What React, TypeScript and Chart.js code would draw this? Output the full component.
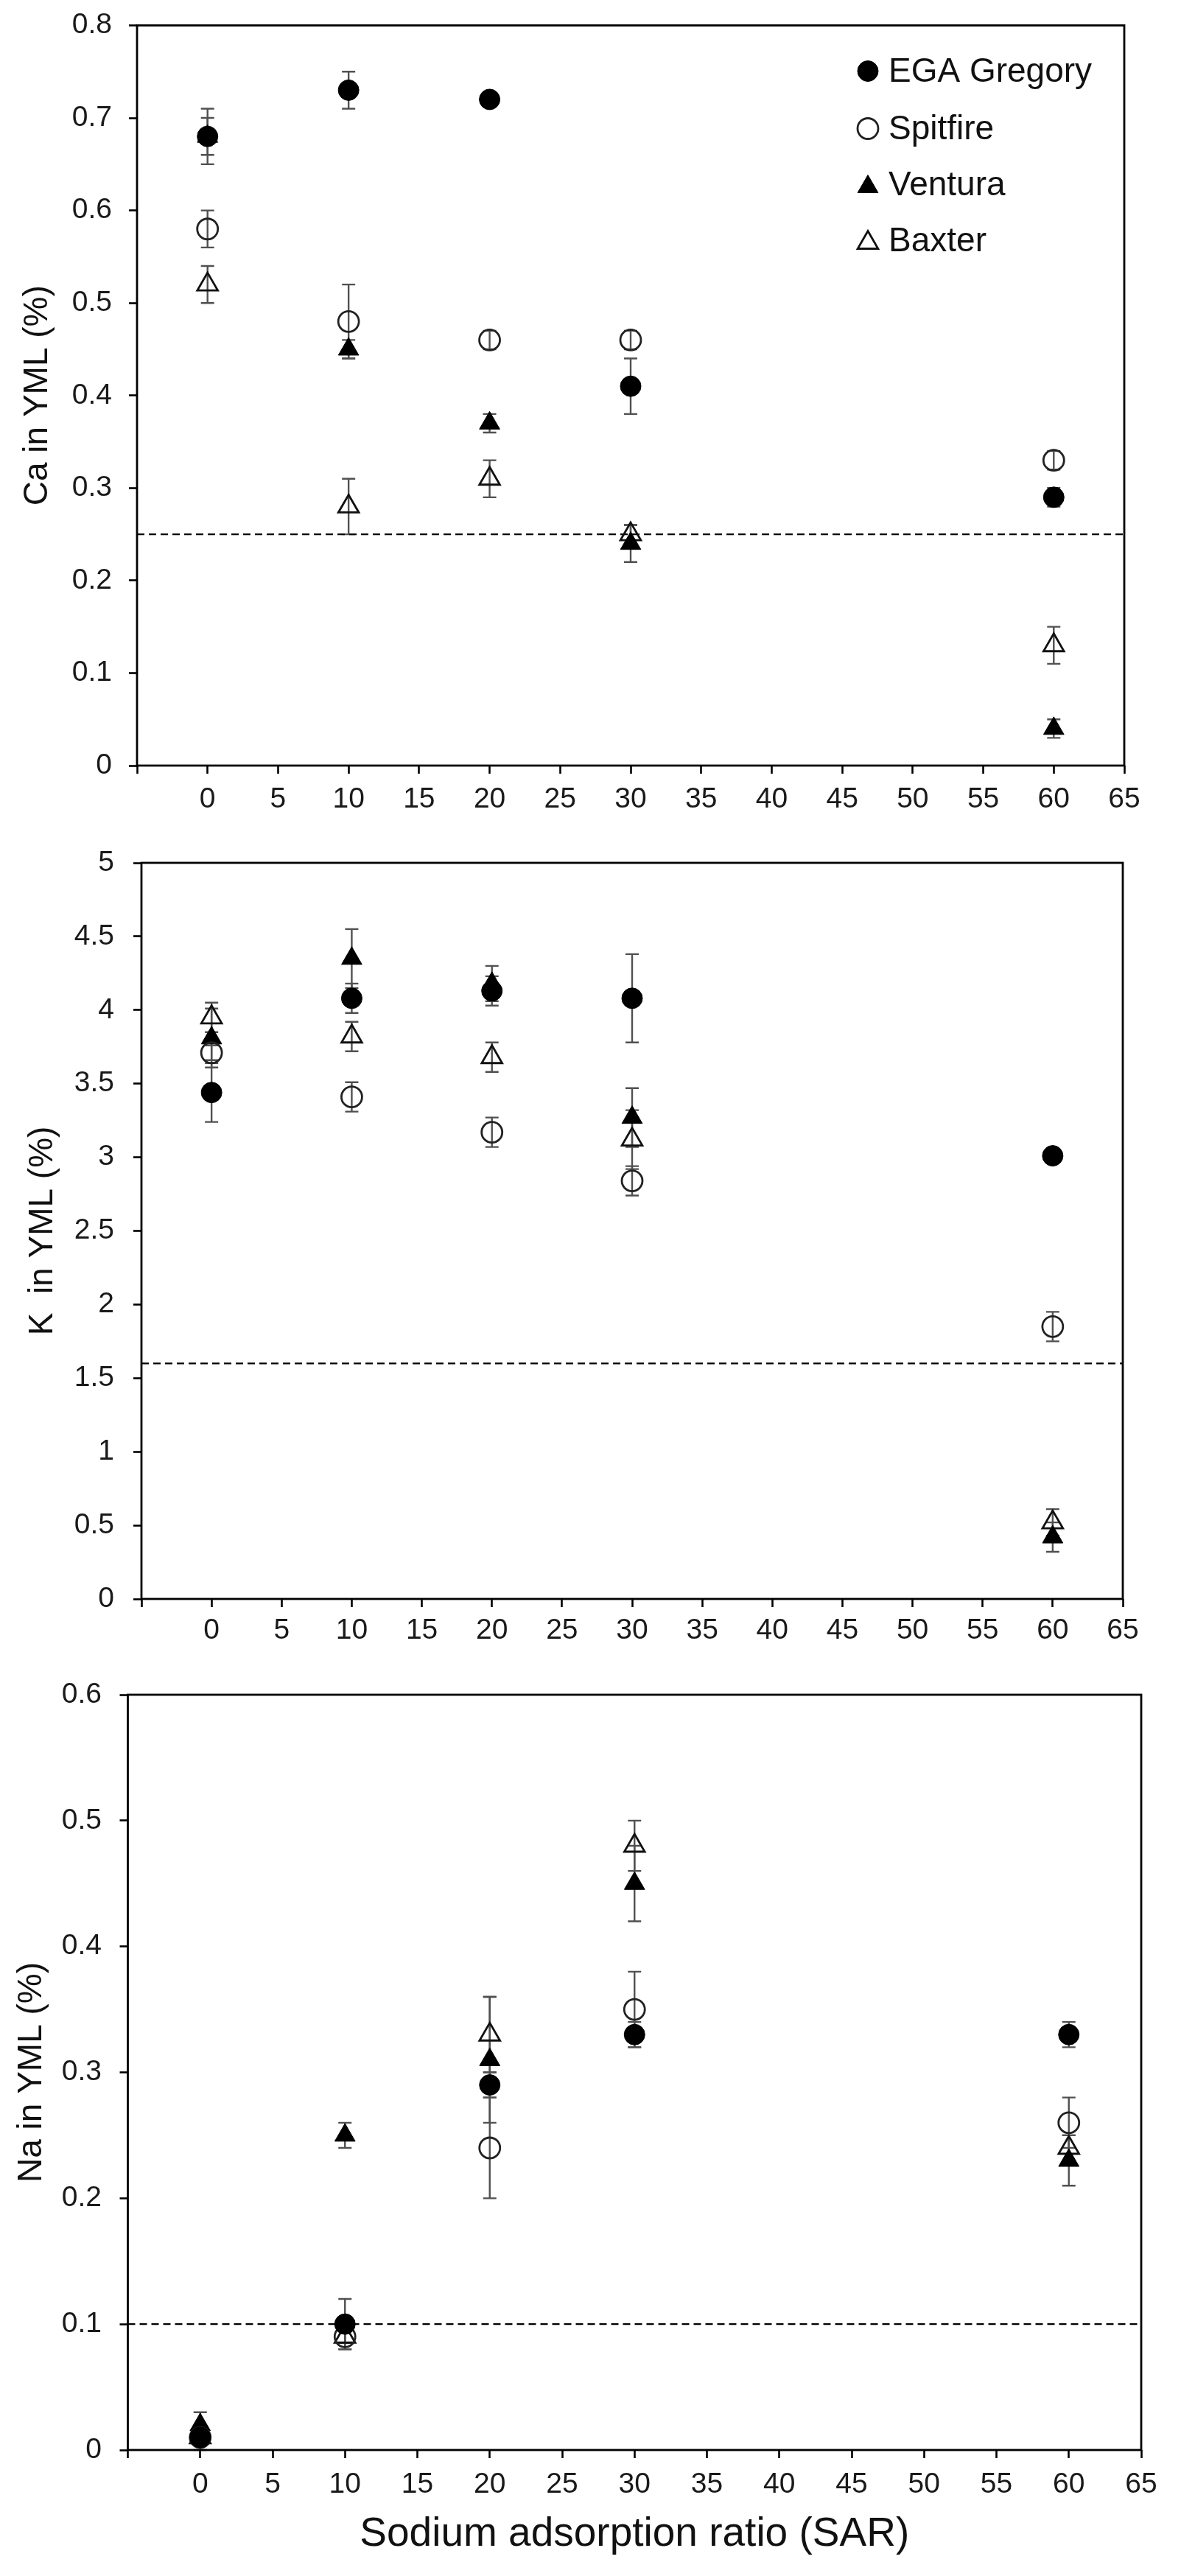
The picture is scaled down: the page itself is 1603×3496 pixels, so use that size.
import React, { useEffect, useRef } from 'react';
import { Chart, registerables } from 'chart.js';

Chart.register(...registerables);

const FONT = "'Liberation Sans', Arial, Helvetica, sans-serif";

// ---------- data ----------
const SAR = [0, 10, 20, 30, 60];
const X_MIN = -5;
const X_MAX = 65;
const X_STEP = 5;
const X_TITLE = 'Sodium adsorption ratio (SAR)';

const CULTIVARS = ['EGA Gregory', 'Spitfire', 'Ventura', 'Baxter'];

// Ca in YML (%)
const CA_EGA = [0.68, 0.73, 0.72, 0.41, 0.29];
const CA_SPITFIRE = [0.58, 0.48, 0.46, 0.46, 0.33];
const CA_VENTURA = [0.68, 0.45, 0.37, 0.24, 0.04];
const CA_BAXTER = [0.52, 0.28, 0.31, 0.25, 0.13];
const CA_EGA_ERR = [0.03, 0.02, 0.005, 0.03, 0.01];
const CA_SPITFIRE_ERR = [0.02, 0.04, 0.01, 0.01, 0.01];
const CA_VENTURA_ERR = [0.02, 0.01, 0.01, 0.02, 0.01];
const CA_BAXTER_ERR = [0.02, 0.03, 0.02, 0.01, 0.02];
const CA_THRESHOLD = 0.25;
const CA_Y = { min: 0, max: 0.8, step: 0.1, title: 'Ca in YML (%)' };

// K in YML (%)
const K_EGA = [3.44, 4.08, 4.13, 4.08, 3.01];
const K_SPITFIRE = [3.71, 3.41, 3.17, 2.84, 1.85];
const K_VENTURA = [3.81, 4.35, 4.18, 3.27, 0.42];
const K_BAXTER = [3.95, 3.82, 3.68, 3.12, 0.52];
const K_EGA_ERR = [0.2, 0.1, 0.1, 0.3, 0.03];
const K_SPITFIRE_ERR = [0.05, 0.1, 0.1, 0.1, 0.1];
const K_VENTURA_ERR = [0.2, 0.2, 0.12, 0.2, 0.1];
const K_BAXTER_ERR = [0.1, 0.1, 0.1, 0.2, 0.09];
const K_THRESHOLD = 1.6;
const K_Y = { min: 0, max: 5, step: 0.5, title: 'K  in YML (%)' };

// Na in YML (%)
const NA_EGA = [0.01, 0.1, 0.29, 0.33, 0.33];
const NA_SPITFIRE = [0.01, 0.09, 0.24, 0.35, 0.26];
const NA_VENTURA = [0.02, 0.25, 0.31, 0.45, 0.23];
const NA_BAXTER = [0.01, 0.09, 0.33, 0.48, 0.24];
const NA_EGA_ERR = [0.005, 0.02, 0.01, 0.01, 0.01];
const NA_SPITFIRE_ERR = [0.005, 0.005, 0.04, 0.03, 0.02];
const NA_VENTURA_ERR = [0.01, 0.01, 0.05, 0.03, 0.02];
const NA_BAXTER_ERR = [0.01, 0.01, 0.03, 0.02, 0.01];
const NA_THRESHOLD = 0.1;
const NA_Y = { min: 0, max: 0.6, step: 0.1, title: 'Na in YML (%)' };

// ---------- styles ----------
const MARKERS = [
  { style: 'circle', radius: 14, fill: '#000000', stroke: '#000000', width: 1 },
  { style: 'circle', radius: 14, fill: 'rgba(0,0,0,0)', stroke: '#222222', width: 2.8 },
  { style: 'triangle', radius: 16, fill: '#000000', stroke: '#000000', width: 1 },
  { style: 'triangle', radius: 16, fill: 'rgba(0,0,0,0)', stroke: '#111111', width: 2.8 },
];

type PanelCfg = {
  top: number;
  height: number;
  areaLeft: number;
  areaRight: number;
  areaTop: number;
  areaBottom: number;
  yTitlePad: number;
  yTickPad: number;
  xTickPad: number;
  xTitlePad: number;
  showXTitle: boolean;
  legend: boolean;
  y: { min: number; max: number; step: number; title: string };
  values: number[][];
  errors: number[][];
  threshold: number;
};

const PAGE_W = 1603;

const PANELS: PanelCfg[] = [
  {
    top: 0, height: 1140,
    areaLeft: 186, areaRight: 1526, areaTop: 34.5, areaBottom: 1039,
    yTitlePad: 23.4, yTickPad: 23, xTickPad: 12, xTitlePad: 0,
    showXTitle: false, legend: true,
    y: CA_Y,
    values: [CA_EGA, CA_SPITFIRE, CA_VENTURA, CA_BAXTER],
    errors: [CA_EGA_ERR, CA_SPITFIRE_ERR, CA_VENTURA_ERR, CA_BAXTER_ERR],
    threshold: CA_THRESHOLD,
  },
  {
    top: 1140, height: 1120,
    areaLeft: 192, areaRight: 1524, areaTop: 31, areaBottom: 1030,
    yTitlePad: 31, yTickPad: 26, xTickPad: 9, xTitlePad: 0,
    showXTitle: false, legend: false,
    y: K_Y,
    values: [K_EGA, K_SPITFIRE, K_VENTURA, K_BAXTER],
    errors: [K_EGA_ERR, K_SPITFIRE_ERR, K_VENTURA_ERR, K_BAXTER_ERR],
    threshold: K_THRESHOLD,
  },
  {
    top: 2260, height: 1236,
    areaLeft: 173.5, areaRight: 1549, areaTop: 40, areaBottom: 1065,
    yTitlePad: 15.4, yTickPad: 24.5, xTickPad: 13, xTitlePad: 23,
    showXTitle: true, legend: false,
    y: NA_Y,
    values: [NA_EGA, NA_SPITFIRE, NA_VENTURA, NA_BAXTER],
    errors: [NA_EGA_ERR, NA_SPITFIRE_ERR, NA_VENTURA_ERR, NA_BAXTER_ERR],
    threshold: NA_THRESHOLD,
  },
];

const CAP = 9;

const errorBarPlugin = {
  id: 'errorBars',
  beforeDatasetsDraw(chart: any) {
    const ctx = chart.ctx;
    const xs = chart.scales.x;
    const ys = chart.scales.y;
    ctx.save();
    ctx.strokeStyle = '#505050';
    ctx.lineWidth = 2.4;
    chart.data.datasets.forEach((ds: any) => {
      if (!ds.errors) return;
      ds.data.forEach((pt: any, j: number) => {
        const e = ds.errors[j];
        if (!e) return;
        const px = xs.getPixelForValue(pt.x);
        const y1 = ys.getPixelForValue(pt.y + e);
        const y2 = ys.getPixelForValue(pt.y - e);
        ctx.beginPath();
        ctx.moveTo(px, y1);
        ctx.lineTo(px, y2);
        ctx.moveTo(px - CAP, y1);
        ctx.lineTo(px + CAP, y1);
        ctx.moveTo(px - CAP, y2);
        ctx.lineTo(px + CAP, y2);
        ctx.stroke();
      });
    });
    ctx.restore();
  },
};

const framePlugin = {
  id: 'frame',
  afterDraw(chart: any) {
    const { ctx, chartArea } = chart;
    ctx.save();
    ctx.strokeStyle = '#000';
    ctx.lineWidth = 2.8;
    ctx.strokeRect(chartArea.left, chartArea.top, chartArea.right - chartArea.left, chartArea.bottom - chartArea.top);
    ctx.restore();
  },
};

function drawMarker(ctx: CanvasRenderingContext2D, m: any, x: number, y: number) {
  ctx.beginPath();
  if (m.style === 'circle') {
    ctx.arc(x, y, m.radius, 0, Math.PI * 2);
  } else {
    const r = m.radius;
    ctx.moveTo(x, y - r);
    ctx.lineTo(x + r * 0.866, y + r * 0.5);
    ctx.lineTo(x - r * 0.866, y + r * 0.5);
    ctx.closePath();
  }
  ctx.fillStyle = m.fill;
  ctx.fill();
  ctx.lineWidth = m.width;
  ctx.strokeStyle = m.stroke;
  ctx.stroke();
}

const legendPlugin = {
  id: 'cornerLegend',
  afterDraw(chart: any) {
    const ctx = chart.ctx;
    const area = chart.chartArea;
    const mx = area.right - 348;
    const tx = area.right - 320;
    const rows = [62, 140, 216, 292];
    ctx.save();
    ctx.font = `46px ${FONT}`;
    ctx.textBaseline = 'middle';
    ctx.textAlign = 'left';
    CULTIVARS.forEach((name, i) => {
      const y = area.top + rows[i];
      drawMarker(ctx, MARKERS[i], mx, y + (MARKERS[i].style === 'triangle' ? 3 : 0));
      ctx.fillStyle = '#111';
      ctx.fillText(name, tx, y + 2);
    });
    ctx.restore();
  },
};

const fmtTick = (v: any) => String(parseFloat(Number(v).toFixed(3)));

function Panel({ cfg }: { cfg: PanelCfg }) {
  const ref = useRef<HTMLCanvasElement | null>(null);
  useEffect(() => {
    const canvas = ref.current;
    if (!canvas) return;
    const datasets: any[] = cfg.values.map((vals, i) => ({
      type: 'scatter',
      label: CULTIVARS[i],
      data: SAR.map((x, j) => ({ x, y: vals[j] })),
      errors: cfg.errors[i],
      pointStyle: MARKERS[i].style,
      pointRadius: MARKERS[i].radius,
      pointHoverRadius: MARKERS[i].radius,
      pointBackgroundColor: MARKERS[i].fill,
      pointBorderColor: MARKERS[i].stroke,
      pointBorderWidth: MARKERS[i].width,
      showLine: false,
      order: 1,
    }));
    datasets.push({
      type: 'scatter',
      label: 'threshold',
      data: [
        { x: X_MIN, y: cfg.threshold },
        { x: X_MAX, y: cfg.threshold },
      ],
      showLine: true,
      borderColor: '#000',
      borderWidth: 2.2,
      borderDash: [10, 6],
      pointRadius: 0,
      pointHoverRadius: 0,
      fill: false,
      order: 10,
    });

    const xAxisH = cfg.height - cfg.areaBottom;
    const plugins: any[] = [errorBarPlugin, framePlugin];
    if (cfg.legend) plugins.push(legendPlugin);

    const chart = new Chart(canvas, {
      type: 'scatter',
      data: { datasets },
      plugins,
      options: {
        responsive: false,
        maintainAspectRatio: false,
        devicePixelRatio: 1,
        animation: false,
        events: [],
        layout: {
          padding: {
            left: 0,
            right: PAGE_W - cfg.areaRight,
            top: cfg.areaTop,
            bottom: 0,
          },
        },
        plugins: {
          legend: { display: false },
          tooltip: { enabled: false },
        },
        scales: {
          x: {
            type: 'linear',
            min: X_MIN,
            max: X_MAX,
            ticks: {
              stepSize: X_STEP,
              autoSkip: false,
              maxRotation: 0,
              minRotation: 0,
              padding: cfg.xTickPad,
              color: '#1a1a1a',
              font: { family: FONT, size: 39 },
              callback: (v: any) => (v === X_MIN ? '' : fmtTick(v)),
            },
            grid: {
              display: true,
              drawOnChartArea: false,
              drawTicks: true,
              tickLength: 11,
              tickWidth: 2.6,
              tickColor: '#000',
            },
            border: { display: false },
            title: {
              display: cfg.showXTitle,
              text: X_TITLE,
              color: '#111',
              font: { family: FONT, size: 55 },
              padding: { top: 0, bottom: cfg.xTitlePad },
            },
            afterFit: (scale: any) => {
              scale.height = xAxisH;
              scale.paddingLeft = 0;
              scale.paddingRight = 0;
            },
          },
          y: {
            type: 'linear',
            min: cfg.y.min,
            max: cfg.y.max,
            ticks: {
              stepSize: cfg.y.step,
              autoSkip: false,
              padding: cfg.yTickPad,
              color: '#1a1a1a',
              font: { family: FONT, size: 39 },
              callback: (v: any) => fmtTick(v),
            },
            grid: {
              display: true,
              drawOnChartArea: false,
              drawTicks: true,
              tickLength: 11,
              tickWidth: 2.6,
              tickColor: '#000',
            },
            border: { display: false },
            title: {
              display: true,
              text: cfg.y.title,
              color: '#111',
              font: { family: FONT, size: 46 },
              padding: { top: cfg.yTitlePad, bottom: 0 },
            },
            afterFit: (scale: any) => {
              scale.width = cfg.areaLeft;
              scale.paddingTop = 0;
              scale.paddingBottom = 0;
            },
          },
        },
      } as any,
    } as any);
    return () => chart.destroy();
  }, [cfg]);

  return (
    <canvas
      ref={ref}
      width={PAGE_W}
      height={cfg.height}
      style={{ position: 'absolute', left: 0, top: cfg.top, width: PAGE_W, height: cfg.height }}
    />
  );
}

export default function App() {
  return (
    <div
      style={{
        position: 'absolute',
        left: 0,
        top: 0,
        width: PAGE_W,
        height: 3496,
        background: '#ffffff',
        overflow: 'hidden',
      }}
    >
      {PANELS.map((p, i) => (
        <Panel key={i} cfg={p} />
      ))}
    </div>
  );
}
